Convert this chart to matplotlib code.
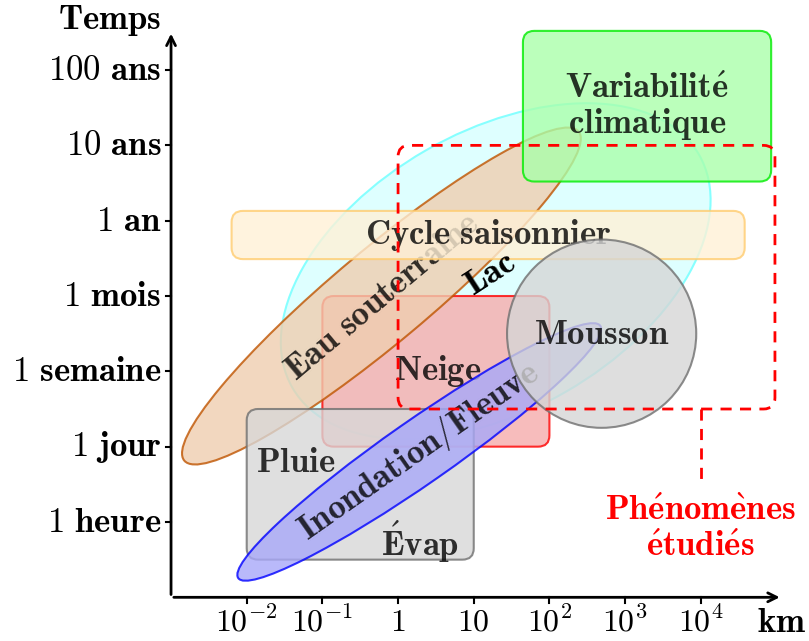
import matplotlib
matplotlib.use("Agg")
import matplotlib.pyplot as plt
from matplotlib.patches import Ellipse, Circle, FancyBboxPatch

plt.rcParams['mathtext.fontset'] = 'cm'

# echelles (log10 km, et index de temps)
x_ticks = [-2, -1, 0, 1, 2, 3, 4]
x_labels = [r'$10^{-2}$', r'$10^{-1}$', r'$1$', r'$10$', r'$10^{2}$', r'$10^{3}$', r'$10^{4}$']
y_ticks = [0, 1, 2, 3, 4, 5, 6]
y_nums = ['1', '1', '1', '1', '1', '10', '100']
y_units = ['heure', 'jour', 'semaine', 'mois', 'an', 'ans', 'ans']

# boites : nom, (x0, x1), (y0, y1)
boxes = {
    'cycle': ((-2.2, 4.58), (3.49, 4.13)),
    'neige': ((-1.0, 2.0), (1.0, 3.0)),
    'pluie': ((-2.0, 1.0), (-0.5, 1.5)),
    'clim': ((1.65, 4.93), (4.52, 6.52)),
    'etude': ((0.0, 4.98), (1.5, 5.0)),
}
# ellipses : centre, demi-axes, angle
ell_lac = ((1.29, 3.33), 3.1, 1.85, 30)
ell_eau = ((-0.22, 3.0), 3.4, 0.62, 40)
ell_fleuve = ((0.28, 0.93), 2.92, 0.42, 35)
mousson = ((2.69, 2.5), 1.25)

fig = plt.figure(figsize=(8.09, 6.41), dpi=100)
ax = fig.add_axes([0, 0, 1, 1])
ax.set_xlim(-5.26, 5.43)
ax.set_ylim(-1.58, 6.93)
ax.axis('off')

fs = 25
OP = 0.8  # opacite des formes


def col(r, g, b, a=OP):
    # couleur vue sur fond blanc -> couleur pure avec opacite a
    return tuple(min(1, max(0, (c / 255 - (1 - a)) / a)) for c in (r, g, b)) + (a,)


def bf(s):
    return r'$\mathbf{' + s.replace(' ', r'\ ') + '}$'


def label(x, y, s, z, rot=0, color='black', alpha=OP, **kw):
    ax.text(x, y, s, rotation=rot, ha=kw.pop('ha', 'center'), va='center', fontsize=fs,
            color=color, alpha=alpha, zorder=z, **kw)


def box(key, fc, ec, z, ls='-', lw=1.5):
    (x0, x1), (y0, y1) = boxes[key]
    p = FancyBboxPatch((x0, y0), x1 - x0, y1 - y0,
                       boxstyle='round,pad=0,rounding_size=0.15',
                       fc=fc, ec=ec, lw=lw, ls=ls, zorder=z)
    ax.add_patch(p)


def ell(e, fc, ec, z, lw=1.5):
    (cx, cy), a, b, ang = e
    ax.add_patch(Ellipse((cx, cy), 2 * a, 2 * b, angle=ang, fc=fc, ec=ec, lw=lw, zorder=z))


# lac
ell(ell_lac, col(222, 255, 255, 1), col(135, 255, 255, 1), 1)
label(1.22, 3.3, bf('Lac'), 9.5, rot=33, alpha=1)

# neige
box('neige', col(248, 188, 188), col(255, 40, 40), 2)
label(0.52, 2.0, bf('Neige'), 2.1)

# eau souterraine
ell(ell_eau, col(242, 216, 192), col(204, 118, 28), 3)
label(-0.22, 3.0, bf('Eau souterraine'), 3.1, rot=40)

# cycle saisonnier
box('cycle', col(255, 243, 222), col(255, 214, 140), 4)
label(1.19, 3.81, bf('Cycle saisonnier'), 4.1)

# pluie / evap
box('pluie', col(224, 224, 224), col(140, 140, 140), 5)
label(-1.88, 0.8, bf('Pluie'), 5.1, ha='left')
label(0.8, -0.26, bf(r'\acute{E}vap'), 5.1, ha='right')

# inondation / fleuve
ell(ell_fleuve, col(185, 185, 250), col(30, 30, 255), 6)
label(0.28, 0.93, bf('Inondation/Fleuve'), 6.1, rot=35)

# mousson
ax.add_patch(Circle(mousson[0], mousson[1], fc=col(222, 222, 222), ec=col(140, 140, 140), lw=1.5, zorder=7))
label(mousson[0][0], mousson[0][1], bf('Mousson'), 7.1)

# variabilite climatique
box('clim', col(187, 255, 187), col(30, 240, 30), 8)
label(3.29, 5.52, bf(r'Variabilit\acute{e}') + '\n' + bf('climatique'), 8.1, linespacing=1.05)

# phenomenes etudies
box('etude', 'none', 'red', 9, ls=(0, (4, 3)), lw=2)
ax.plot([4.0, 4.0], [1.5, 0.56], color='red', lw=2, ls=(0, (4, 3)), zorder=9)
ax.text(4.0, -0.08, bf(r'Ph\acute{e}nom\grave{e}nes') + '\n' + bf(r'\acute{e}tudi\acute{e}s'), ha='center', va='center',
        fontsize=fs, color='red', linespacing=1.05, zorder=9)

# axes
ax.annotate('', xy=(5.08, -1.0), xytext=(-3.0, -1.0),
            arrowprops=dict(arrowstyle='->', lw=2, color='black', mutation_scale=16), zorder=10)
ax.annotate('', xy=(-3.0, 6.52), xytext=(-3.0, -1.0),
            arrowprops=dict(arrowstyle='->', lw=2, color='black', mutation_scale=16), zorder=10)

for xt, lab in zip(x_ticks, x_labels):
    ax.plot([xt, xt], [-1.0, -1.07], color='black', lw=1.5, zorder=10)
    ax.text(xt, -1.33, lab, ha='center', va='center', fontsize=23)

for yt, n, u in zip(y_ticks, y_nums, y_units):
    ax.plot([-3.0, -3.07], [yt, yt], color='black', lw=1.5, zorder=10)
    ax.text(-3.13, yt, r'$\mathrm{' + n + r'}\ \mathbf{' + u + '}$', ha='right', va='center', fontsize=fs)

ax.text(-3.13, 6.66, bf('Temps'), ha='right', va='center', fontsize=fs)
ax.text(5.07, -1.33, bf('km'), ha='center', va='center', fontsize=fs)

fig.savefig('out.png', dpi=100)
